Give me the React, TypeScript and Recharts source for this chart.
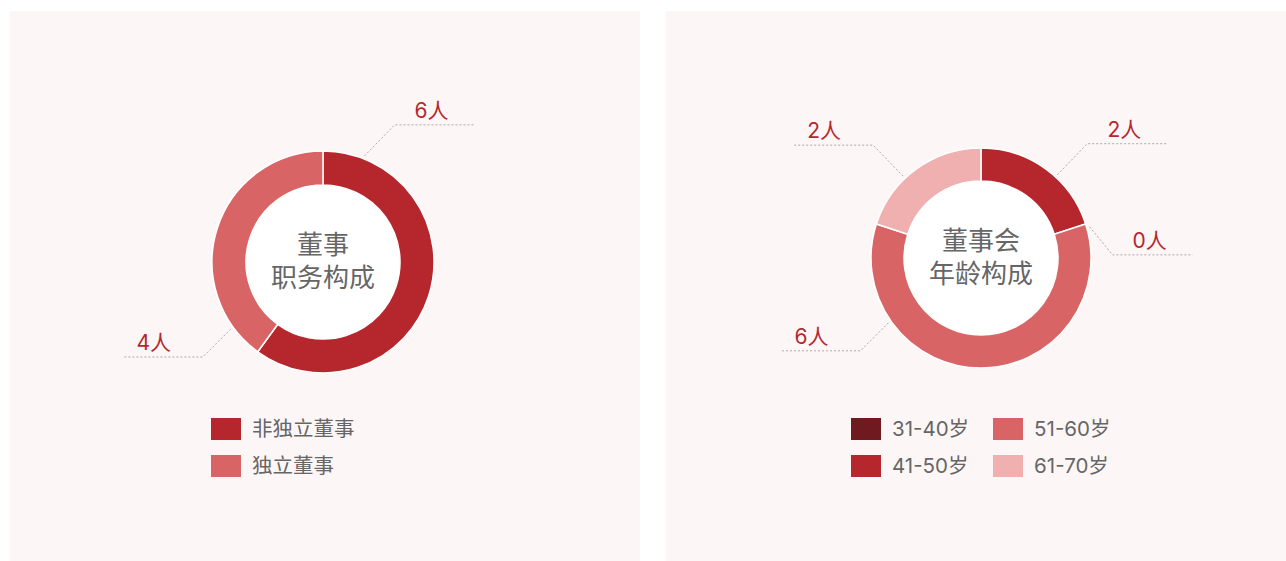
import React from 'react';
import { PieChart, Pie, Cell, Legend } from 'recharts';

// ---------- data ----------
const roleCategories = ['非独立董事', '独立董事'];
const roleValues = [6, 4];
const roleColors = ['#b5262d', '#d96466'];

const ageCategories = ['31-40岁', '41-50岁', '51-60岁', '61-70岁'];
const ageValues = [0, 2, 6, 2];
const ageColors = ['#6e1a1e', '#b5262d', '#d96466', '#f0b0b0'];
// order in which the age sectors are drawn clockwise from 12 o'clock
const agePieOrder = [1, 0, 2, 3];

const leftTitle = ['董事', '职务构成'];
const rightTitle = ['董事会', '年龄构成'];
const unit = '人';

// ---------- layout ----------
const FONT = "'Noto Sans CJK SC', 'Noto Sans', sans-serif";
const FONT_NUM = "Inter, 'Noto Sans CJK SC', sans-serif";
const PANEL_BG = '#fdf6f6';
const OUTER_R = 111;
const INNER_R = 77;
const MARGIN = { top: 0, right: 0, bottom: 0, left: 0 };
// label leader anchors: angle (deg, ccw from 3 o'clock) and vertical direction of elbow
const roleLabelLayout = [
  { angle: 68.6, up: true },
  { angle: 216, up: false },
];
const ageLabelLayout = [
  { angle: 47.5, up: true },
  { angle: 16, up: false },
  { angle: 215, up: false },
  { angle: 133.6, up: true },
];

const RAD = Math.PI / 180;

const makeLabel = (layout: { angle: number; up: boolean }[]) => (props: any) => {
  const { cx, cy, outerRadius, index, value } = props;
  const l = layout[index];
  if (!l) return null;
  const r = outerRadius + 3;
  const sx = cx + r * Math.cos(l.angle * RAD);
  const sy = cy - r * Math.sin(l.angle * RAD);
  const right = Math.cos(l.angle * RAD) >= 0;
  const dx = right ? 1 : -1;
  const dy = l.up ? -1 : 1;
  const legX = l.up ? 30 : right ? 23 : 28;
  const legY = l.up ? 31 : 28;
  const ex = sx + dx * legX;
  const ey = sy + dy * legY;
  const hx = ex + dx * 80;
  const tx = (ex + hx) / 2 + (right ? -3 : -9);
  return (
    <g key={`lbl-${index}`}>
      <polyline
        points={`${sx},${sy} ${ex},${ey} ${hx},${ey}`}
        fill="none"
        stroke="#b0a8a8"
        strokeWidth={1}
        strokeDasharray="2 2"
      />
      <text
        x={tx}
        y={ey - 7}
        textAnchor="middle"
        fill="#b5262d"
        fontSize={21}
        fontFamily={FONT_NUM}
      >
        {`${value}${unit}`}
      </text>
    </g>
  );
};

const LegendBox = ({ items, colors, columns }: { items: string[]; colors: string[]; columns: number }) => {
  const rows = Math.ceil(items.length / columns);
  const cols: number[][] = [];
  for (let c = 0; c < columns; c++) {
    cols.push(items.map((_, i) => i).slice(c * rows, c * rows + rows));
  }
  return (
    <div style={{ display: 'flex', gap: 24, fontFamily: FONT_NUM }}>
      {cols.map((col, ci) => (
        <div key={ci} style={{ display: 'flex', flexDirection: 'column', gap: 15 }}>
          {col.map((i) => (
            <div key={i} style={{ display: 'flex', alignItems: 'center', height: 22 }}>
              <div style={{ width: 30, height: 22, background: colors[i], marginRight: 11 }} />
              <span style={{ fontSize: 20.5, color: '#666', lineHeight: '22px', whiteSpace: 'nowrap' }}>{items[i]}</span>
            </div>
          ))}
        </div>
      ))}
    </div>
  );
};

const CenterTitle = ({ cx, cy, lines }: { cx: number; cy: number; lines: string[] }) => (
  <g>
    <circle cx={cx} cy={cy} r={INNER_R} fill="#ffffff" />
    <text x={cx} y={cy - 8} textAnchor="middle" fill="#666" fontSize={26} fontFamily={FONT}>
      {lines[0]}
    </text>
    <text x={cx} y={cy + 25} textAnchor="middle" fill="#666" fontSize={26} fontFamily={FONT}>
      {lines[1]}
    </text>
  </g>
);

const roleData = roleCategories.map((name, i) => ({ name, value: roleValues[i], color: roleColors[i] }));
const ageData = agePieOrder.map((i) => ({ name: ageCategories[i], value: ageValues[i], color: ageColors[i] }));

export default function App() {
  const LCX = 313;
  const LCY = 251;
  const RCX = 315;
  const RCY = 247;
  return (
    <div style={{ position: 'fixed', left: 0, top: 0, width: 1286, height: 561, background: '#fff', overflow: 'hidden' }}>
      <div style={{ position: 'absolute', left: 10, top: 11, width: 630, height: 550, background: PANEL_BG }}>
        <PieChart width={630} height={550} margin={MARGIN}>
          <CenterTitle cx={LCX} cy={LCY} lines={leftTitle} />
          <Pie
            data={roleData}
            dataKey="value"
            nameKey="name"
            cx={LCX}
            cy={LCY}
            innerRadius={INNER_R}
            outerRadius={OUTER_R}
            startAngle={90}
            endAngle={-270}
            stroke="#ffffff"
            strokeWidth={1.5}
            label={makeLabel(roleLabelLayout)}
            labelLine={false}
            isAnimationActive={false}
          >
            {roleData.map((d, i) => (
              <Cell key={i} fill={d.color} />
            ))}
          </Pie>
          <Legend
            wrapperStyle={{ position: 'absolute', left: 201, top: 407, width: 'auto' }}
            content={() => <LegendBox items={roleCategories} colors={roleColors} columns={1} />}
          />
        </PieChart>
      </div>
      <div style={{ position: 'absolute', left: 666, top: 11, width: 620, height: 550, background: PANEL_BG }}>
        <PieChart width={620} height={550} margin={MARGIN}>
          <CenterTitle cx={RCX} cy={RCY} lines={rightTitle} />
          <Pie
            data={ageData}
            dataKey="value"
            nameKey="name"
            cx={RCX}
            cy={RCY}
            innerRadius={INNER_R}
            outerRadius={OUTER_R - 1}
            startAngle={90}
            endAngle={-270}
            stroke="#ffffff"
            strokeWidth={1.5}
            label={makeLabel(ageLabelLayout)}
            labelLine={false}
            isAnimationActive={false}
          >
            {ageData.map((d, i) => (
              <Cell key={i} fill={d.color} />
            ))}
          </Pie>
          <Legend
            wrapperStyle={{ position: 'absolute', left: 185, top: 407, width: 'auto' }}
            content={() => <LegendBox items={ageCategories} colors={ageColors} columns={2} />}
          />
        </PieChart>
      </div>
    </div>
  );
}
